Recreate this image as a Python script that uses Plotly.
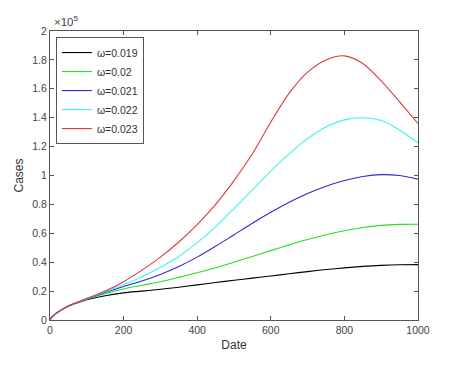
import plotly.graph_objects as go

# dates (days) and case counts in units of 1e5
date = [0, 5, 10, 25, 50, 75, 100, 150, 200, 250, 300, 350, 400, 450, 500,
        550, 600, 650, 700, 750, 800, 850, 900, 950, 1000]

cases_0019 = [0, 0.02, 0.032, 0.06, 0.096, 0.12, 0.14, 0.168, 0.188, 0.20, 0.213, 0.227,
              0.243, 0.259, 0.275, 0.29, 0.305, 0.32, 0.335, 0.349, 0.361, 0.371, 0.378,
              0.382, 0.383]
cases_0020 = [0, 0.02, 0.032, 0.06, 0.097, 0.121, 0.143, 0.182, 0.215, 0.24, 0.265, 0.295,
              0.327, 0.362, 0.40, 0.44, 0.48, 0.52, 0.557, 0.59, 0.618, 0.64, 0.655,
              0.662, 0.663]
cases_0021 = [0, 0.02, 0.032, 0.06, 0.097, 0.122, 0.145, 0.19, 0.232, 0.27, 0.315, 0.37,
              0.435, 0.51, 0.59, 0.67, 0.745, 0.815, 0.875, 0.925, 0.965, 0.993, 1.006,
              1.0, 0.975]
cases_0022 = [0, 0.02, 0.032, 0.06, 0.097, 0.123, 0.147, 0.195, 0.245, 0.30, 0.365, 0.44,
              0.535, 0.645, 0.77, 0.90, 1.03, 1.15, 1.255, 1.335, 1.385, 1.40, 1.38,
              1.315, 1.225]
cases_0023 = [0, 0.02, 0.032, 0.06, 0.098, 0.124, 0.15, 0.20, 0.265, 0.345, 0.435, 0.54,
              0.66, 0.80, 0.965, 1.15, 1.37, 1.57, 1.715, 1.80, 1.828, 1.775, 1.655,
              1.51, 1.36]

labels = ['ω=0.019', 'ω=0.02', 'ω=0.021', 'ω=0.022', 'ω=0.023']
colors = ['#000000', '#22e022', '#2a2ad8', '#33f5f5', '#e03a3a']
series = [cases_0019, cases_0020, cases_0021, cases_0022, cases_0023]

fig = go.Figure()
for lab, col, ys in zip(labels, colors, series):
    fig.add_trace(go.Scatter(x=date, y=ys, mode='lines', name=lab,
                             line=dict(color=col, width=1.1, shape='spline', smoothing=0.8)))

axis_style = dict(showline=True, linecolor='#555', linewidth=1, mirror='ticks',
                  ticks='inside', ticklen=4, tickcolor='#555', showgrid=False,
                  zeroline=False, automargin=False,
                  tickfont=dict(size=10.5, color='#444'))

# the page body adds an 8px offset, margins are set to compensate
fig.update_layout(
    width=470, height=372,
    margin=dict(l=42, r=60, t=23, b=60),
    paper_bgcolor='white', plot_bgcolor='white',
    font=dict(family='Liberation Sans, Arial, sans-serif', color='#333'),
    xaxis=dict(range=[0, 1000], tickvals=[0, 200, 400, 600, 800, 1000],
               title=dict(text='Date', font=dict(size=12), standoff=6), **axis_style),
    yaxis=dict(range=[0, 2], tickvals=[0, 0.2, 0.4, 0.6, 0.8, 1, 1.2, 1.4, 1.6, 1.8, 2],
               ticktext=['0', '0.2', '0.4', '0.6', '0.8', '1', '1.2', '1.4', '1.6', '1.8', '2'],
               title=dict(text='Cases', font=dict(size=12), standoff=6), **axis_style),
    legend=dict(x=0.016, y=0.979, xanchor='left', yanchor='top',
                bordercolor='#555', borderwidth=1, bgcolor='white',
                font=dict(size=10.5, color='#333'), itemwidth=30,
                tracegroupgap=0),
    showlegend=True,
    annotations=[dict(text='×10<sup>5</sup>', xref='paper', yref='paper', x=0.005, y=1,
                      xanchor='left', yanchor='bottom', showarrow=False,
                      font=dict(size=11.5, color='#444'), yshift=1)],
)

fig.write_html("out.html")
